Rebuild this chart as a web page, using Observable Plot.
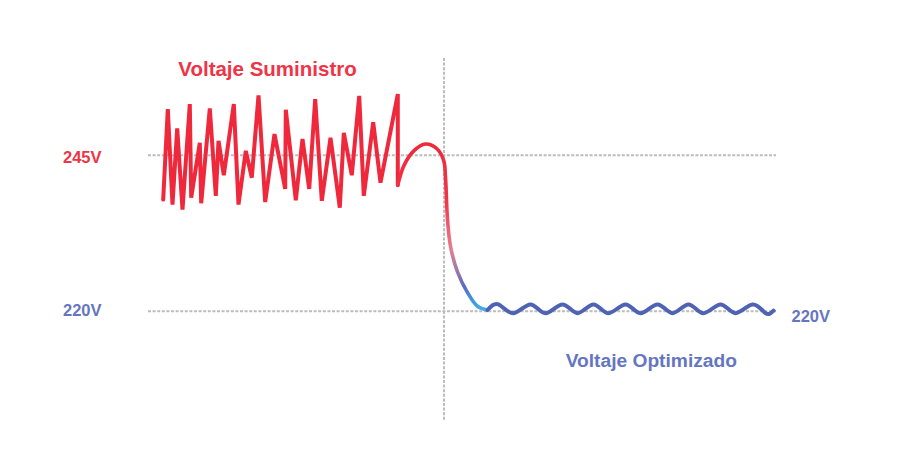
<!DOCTYPE html>
<html><head><meta charset="utf-8">
<script src="https://cdn.jsdelivr.net/npm/d3@7"></script>
<script src="https://cdn.jsdelivr.net/npm/@observablehq/plot@0.6"></script>
<style>body{margin:0;background:#fff}</style>
</head><body><div id="chart"></div>
<script>
// time (arbitrary units) and voltage readings
const supplyT = [14.7,19.3,24,28.7,34,41.3,42.7,51.3,52.7,61.3,67.3,70,75.3,85.3,90,97.3,103.3,110,116.7,126,136.7,137.3,147.3,154,160.7,166.7,173.3,182,191.3,195.3,203.3,210.7,215.3,224.7,232,249.3,249.3];
const supplyV = [237.9,252.4,237.1,249.3,236.3,253.2,238.2,247.0,237.3,252.5,238.5,247.3,241.8,253.2,237.1,245.7,241.4,254.6,237.5,248.4,239.6,252.3,237.8,247.6,239.6,254.0,237.7,247.8,236.6,248.6,241.8,254.5,238.5,250.3,240.6,254.8,240.2];
const transT = [249.3,255.3,265.3,277,288.7,295.3,297,299,302,309,319,329,339];
const transV = [240.2,243.3,245.7,246.8,246.0,244.1,241.4,234.7,230.4,226.3,223.0,220.8,220.2];
const waveT = [339,350,365,382,397,414,429,445,460,477,492,509,524,540,555,572,587,604,617,625];
const waveV = [220.2,221.1,219.7,221.1,219.7,221.1,219.7,221.1,219.7,221.1,219.7,221.1,219.7,221.1,219.7,221.1,219.7,221.1,219.7,220.1];
const levels = [245, 220];
const levelLabels = ["245V", "220V"];
const switchT = [295.5];
const seriesNames = ["Voltaje Suministro", "Voltaje Optimizado"];

const RED = "#f0283c", RED_TXT = "#ee3446";
const BLUE = "#4f63b5", BLUE_TXT = "#6576c0";
const GRID = "#bcbcbc";
const font = "'Liberation Sans', Arial, Helvetica, sans-serif";

const supply = supplyT.map((t, i) => ({t, v: supplyV[i]}));
const trans = transT.map((t, i) => ({t, v: transV[i]}));
const wave = waveT.map((t, i) => ({t, v: waveV[i]}));

const chart = Plot.plot({
  width: 910,
  height: 473,
  marginLeft: 148,
  marginRight: 134,
  marginTop: 58,
  marginBottom: 53,
  style: {background: "#fff", fontFamily: font},
  x: {domain: [0, 628], axis: null},
  y: {domain: [202.5, 260.5], axis: null},
  marks: [
    Plot.ruleY(levels, {stroke: GRID, strokeWidth: 2, strokeDasharray: "3,1.6"}),
    Plot.ruleX(switchT, {stroke: GRID, strokeWidth: 2, strokeDasharray: "3,1.6"}),
    Plot.line(supply, {x: "t", y: "v", stroke: RED, strokeWidth: 4, strokeLinejoin: "miter", strokeMiterlimit: 3}),
    Plot.line(trans, {x: "t", y: "v", stroke: "url(#dropGrad)", strokeWidth: 3.6, curve: "catmull-rom"}),
    Plot.line(wave, {x: "t", y: "v", stroke: BLUE, strokeWidth: 4, curve: "natural"}),
    Plot.text([levels[0]], {y: d => d, frameAnchor: "left", dx: -47, dy: 2, textAnchor: "end", text: () => levelLabels[0], fill: RED_TXT, fontSize: 16.5, fontWeight: "bold"}),
    Plot.text([levels[1]], {y: d => d, frameAnchor: "left", dx: -47, dy: -1, textAnchor: "end", text: () => levelLabels[1], fill: BLUE_TXT, fontSize: 16.5, fontWeight: "bold"}),
    Plot.text([levels[1]], {y: d => d, frameAnchor: "right", dx: 15, dy: 5, textAnchor: "start", text: () => levelLabels[1], fill: BLUE_TXT, fontSize: 16.5, fontWeight: "bold"}),
    Plot.text([seriesNames[0]], {x: 119, y: 258.8, text: d => d, fill: RED_TXT, fontSize: 20.5, fontWeight: "bold"}),
    Plot.text([seriesNames[1]], {x: 502.8, y: 212.0, text: d => d, fill: BLUE_TXT, fontSize: 19.2, fontWeight: "bold"})
  ]
});

// gradient definition for the transition curve
const ns = "http://www.w3.org/2000/svg";
const svg = chart.tagName.toLowerCase() === "svg" ? chart : chart.querySelector("svg");
const defs = document.createElementNS(ns, "defs");
const grad = document.createElementNS(ns, "linearGradient");
grad.setAttribute("id", "dropGrad");
grad.setAttribute("x1", "0"); grad.setAttribute("y1", "0");
grad.setAttribute("x2", "0"); grad.setAttribute("y2", "1");
[[0, "#f0283c"], [0.35, "#f0364a"], [0.52, "#ef6474"], [0.64, "#e07f90"], [0.76, "#a078ac"], [0.86, "#5a6ac4"], [0.95, "#3f9ddd"], [1, "#45aee4"]].forEach(([o, c]) => {
  const s = document.createElementNS(ns, "stop");
  s.setAttribute("offset", o);
  s.setAttribute("stop-color", c);
  grad.appendChild(s);
});
defs.appendChild(grad);
svg.insertBefore(defs, svg.firstChild);

document.getElementById("chart").appendChild(chart);
</script>
</body></html>
